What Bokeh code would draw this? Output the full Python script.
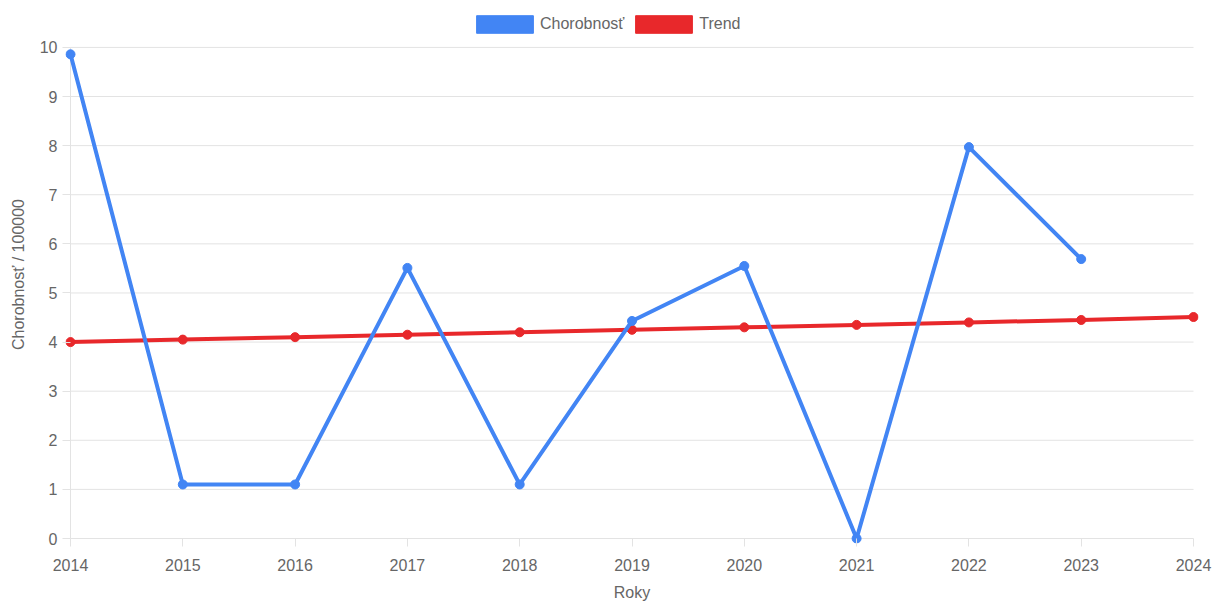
from bokeh.plotting import figure
from bokeh.models import (ColumnDataSource, Legend, LegendItem, FixedTicker, Range1d)
from bokeh.embed import file_html
from bokeh.resources import INLINE

years = [2014, 2015, 2016, 2017, 2018, 2019, 2020, 2021, 2022, 2023]
chorobnost = [9.86, 1.10, 1.10, 5.51, 1.10, 4.43, 5.55, 0.0, 7.97, 5.69]
trend_years = [2014, 2015, 2016, 2017, 2018, 2019, 2020, 2021, 2022, 2023, 2024]
trend = [4.00, 4.05, 4.10, 4.15, 4.20, 4.25, 4.30, 4.35, 4.40, 4.45, 4.51]
y_ticks = [0, 1, 2, 3, 4, 5, 6, 7, 8, 9, 10]
x_ticks = [2014, 2015, 2016, 2017, 2018, 2019, 2020, 2021, 2022, 2023, 2024]

BLUE = "#4285f4"
RED = "#e8282b"
GRID = "#e3e3e3"
TXT = "#666666"
FONT = "Liberation Sans"
FS = "16px"

# frame spans from y=5 to y=544 px; values 0..10 occupy 492 px (47..539)
PAD = 5
PX_X = 1123 / 10
PX_Y = 492 / 10
x_pad = PAD / PX_X
y_bot = -PAD / PX_Y
y_top = 10 + 42 / PX_Y

p = figure(width=1214, height=603, output_backend="svg", toolbar_location=None,
           x_range=Range1d(x_ticks[0] - x_pad, x_ticks[-1] + x_pad), y_range=Range1d(y_bot, y_top),
           min_border_left=65, min_border_right=16, min_border_top=5, min_border_bottom=59)
p.outline_line_color = None
p.background_fill_color = "white"
p.xgrid.grid_line_color = None
p.ygrid.grid_line_color = None

# grid lines limited to the data area
p.segment(x0=[x_ticks[0]] * len(y_ticks), x1=[x_ticks[-1]] * len(y_ticks),
          y0=y_ticks, y1=y_ticks, line_color=GRID, line_width=1)
p.segment(x0=[x_ticks[0]], x1=[x_ticks[0]], y0=[y_ticks[0]], y1=[y_ticks[-1]],
          line_color=GRID, line_width=1)

src = ColumnDataSource(dict(x=years, y=chorobnost))
tsrc = ColumnDataSource(dict(x=trend_years, y=trend))

p.line("x", "y", source=tsrc, line_color=RED, line_width=4)
p.scatter("x", "y", source=tsrc, size=9, fill_color=RED, line_color=RED)
p.line("x", "y", source=src, line_color=BLUE, line_width=4)
p.scatter("x", "y", source=src, size=9, fill_color=BLUE, line_color=BLUE)

# legend swatches (no visible data)
nan = float("nan")
sw = ColumnDataSource(dict(left=[nan], right=[nan], bottom=[nan], top=[nan]))
q1 = p.quad(left="left", right="right", bottom="bottom", top="top", source=sw,
            fill_color=BLUE, line_color=BLUE)
q2 = p.quad(left="left", right="right", bottom="bottom", top="top", source=sw,
            fill_color=RED, line_color=RED)
legend = Legend(items=[LegendItem(label="Chorobnosť", renderers=[q1]),
                       LegendItem(label="Trend", renderers=[q2])],
                orientation="horizontal", location=(404, 508),
                glyph_width=71, glyph_height=22, label_standoff=0, spacing=4,
                padding=0, margin=0, border_line_color=None, background_fill_alpha=0,
                label_text_font=FONT, label_text_font_size=FS, label_text_color=TXT,
                label_height=22)
p.add_layout(legend, "center")

p.xaxis.ticker = FixedTicker(ticks=x_ticks)
p.yaxis.ticker = FixedTicker(ticks=y_ticks)
p.xaxis.minor_tick_line_color = None
p.yaxis.minor_tick_line_color = None
for ax in (p.xaxis, p.yaxis):
    ax.axis_line_color = None
    ax.major_tick_line_color = GRID
    ax.major_tick_out = 3
    ax.major_tick_in = PAD
    ax.major_label_text_font = FONT
    ax.major_label_text_font_size = FS
    ax.major_label_text_color = TXT
    ax.axis_label_text_font = FONT
    ax.axis_label_text_font_size = FS
    ax.axis_label_text_color = TXT
    ax.axis_label_text_font_style = "normal"
p.xaxis.major_label_standoff = 12
p.yaxis.major_label_standoff = 5
p.xaxis.axis_label = "Roky"
p.yaxis.axis_label = "Chorobnosť / 100000"
p.xaxis.axis_label_standoff = 10
p.yaxis.axis_label_standoff = 10

open("out.html", "w").write(file_html(p, INLINE))
